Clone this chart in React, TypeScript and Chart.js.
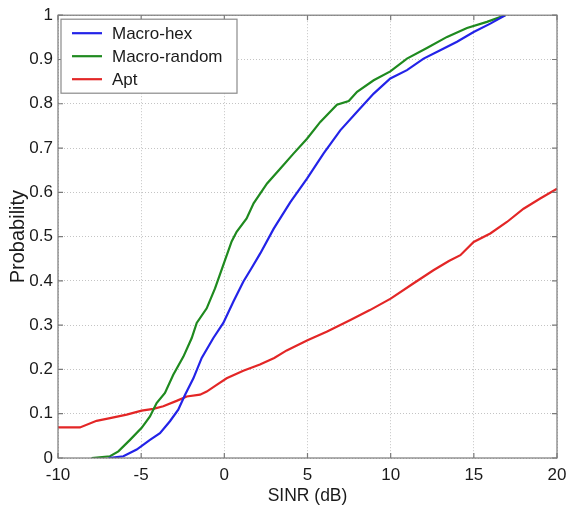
import React, { useEffect, useRef } from "react";
import { Chart, registerables } from "chart.js";

Chart.register(...registerables);

const seriesLabels = ["Macro-hex", "Macro-random", "Apt"];
const seriesColors = ["#2323e8", "#1f8a1f", "#e32626"];

const hexX = [-6.97, -6.07, -5.27, -4.47, -3.87, -3.27, -2.77, -2.36, -1.86, -1.36, -0.66, -0.06, 0.54, 1.14, 1.64, 2.16, 2.97, 3.97, 4.97, 5.97, 6.97, 7.98, 8.98, 9.98, 10.98, 11.98, 12.98, 13.99, 14.99, 15.99, 16.89];
const hexY = [0, 0.004, 0.019, 0.041, 0.056, 0.083, 0.109, 0.143, 0.18, 0.226, 0.271, 0.305, 0.353, 0.398, 0.429, 0.462, 0.518, 0.578, 0.631, 0.688, 0.74, 0.782, 0.823, 0.857, 0.876, 0.902, 0.921, 0.94, 0.962, 0.981, 1.0];

const randX = [-7.98, -6.87, -6.37, -5.67, -4.97, -4.47, -4.07, -3.57, -3.07, -2.46, -1.96, -1.66, -1.06, -0.56, -0.06, 0.44, 0.74, 1.34, 1.76, 2.57, 3.37, 4.17, 4.97, 5.77, 6.77, 7.48, 7.98, 8.98, 9.98, 10.98, 12.18, 13.39, 14.59, 15.79, 16.89];
const randY = [0, 0.004, 0.015, 0.041, 0.068, 0.094, 0.124, 0.147, 0.188, 0.229, 0.271, 0.305, 0.338, 0.383, 0.436, 0.489, 0.511, 0.541, 0.575, 0.62, 0.654, 0.688, 0.721, 0.759, 0.798, 0.806, 0.827, 0.853, 0.873, 0.902, 0.926, 0.951, 0.971, 0.985, 1.0];

const aptX = [-10, -8.68, -7.68, -6.87, -5.87, -4.97, -4.27, -3.67, -2.87, -2.26, -1.46, -1.06, -0.46, 0.14, 1.14, 2.14, 3.0, 3.75, 5.0, 6.15, 7.55, 8.75, 10.0, 11.36, 12.57, 13.5, 14.19, 14.99, 15.99, 16.99, 17.99, 18.99, 20];
const aptY = [0.069, 0.069, 0.084, 0.09, 0.098, 0.107, 0.111, 0.117, 0.129, 0.139, 0.143, 0.15, 0.165, 0.18, 0.197, 0.211, 0.226, 0.243, 0.266, 0.285, 0.311, 0.334, 0.36, 0.394, 0.424, 0.445, 0.458, 0.488, 0.507, 0.533, 0.563, 0.586, 0.608];

const xTicks = [-10, -5, 0, 5, 10, 15, 20];
const yTicks = [0, 0.1, 0.2, 0.3, 0.4, 0.5, 0.6, 0.7, 0.8, 0.9, 1];

const FONT = "'Liberation Sans', Arial, Helvetica, sans-serif";

const zip = (xs: number[], ys: number[]) => xs.map((x, i) => ({ x, y: ys[i] }));

const frameAndLegend = {
  id: "frameAndLegend",
  afterDraw(chart: any) {
    const { ctx, chartArea } = chart;
    const { left, right, top, bottom } = chartArea;
    const xs = chart.scales.x;
    const ys = chart.scales.y;
    ctx.save();
    ctx.strokeStyle = "#7a7a7a";
    ctx.lineWidth = 1.2;
    ctx.setLineDash([]);
    ctx.strokeRect(left, top, right - left, bottom - top);
    const tl = 5;
    ctx.beginPath();
    xTicks.forEach((v) => {
      const px = xs.getPixelForValue(v);
      ctx.moveTo(px, bottom);
      ctx.lineTo(px, bottom - tl);
      ctx.moveTo(px, top);
      ctx.lineTo(px, top + tl);
    });
    yTicks.forEach((v) => {
      const py = ys.getPixelForValue(v);
      ctx.moveTo(left, py);
      ctx.lineTo(left + tl, py);
      ctx.moveTo(right, py);
      ctx.lineTo(right - tl, py);
    });
    ctx.stroke();

    const bx = left + 3;
    const by = top + 4;
    const bw = 176;
    const bh = 74;
    ctx.fillStyle = "#ffffff";
    ctx.fillRect(bx, by, bw, bh);
    ctx.strokeStyle = "#8a8a8a";
    ctx.lineWidth = 1.2;
    ctx.strokeRect(bx, by, bw, bh);
    ctx.font = `17px ${FONT}`;
    ctx.textBaseline = "middle";
    ctx.textAlign = "left";
    seriesLabels.forEach((lab, i) => {
      const cy = by + 14 + i * 23;
      ctx.strokeStyle = seriesColors[i];
      ctx.lineWidth = 2.2;
      ctx.beginPath();
      ctx.moveTo(bx + 11, cy);
      ctx.lineTo(bx + 41, cy);
      ctx.stroke();
      ctx.fillStyle = "#1a1a1a";
      ctx.fillText(lab, bx + 51, cy + 1);
    });
    ctx.restore();
  },
};

export default function App() {
  const ref = useRef<HTMLCanvasElement | null>(null);

  useEffect(() => {
    document.body.style.margin = "0";
    const canvas = ref.current;
    if (!canvas) return;
    const datasets = [
      zip(hexX, hexY),
      zip(randX, randY),
      zip(aptX, aptY),
    ].map((data, i) => ({
      label: seriesLabels[i],
      data,
      borderColor: seriesColors[i],
      backgroundColor: seriesColors[i],
      borderWidth: 2.2,
      pointRadius: 0,
      tension: 0,
      fill: false,
    }));

    const chart = new Chart(canvas, {
      type: "line",
      data: { datasets },
      plugins: [frameAndLegend],
      options: {
        animation: false,
        responsive: false,
        maintainAspectRatio: false,
        layout: { padding: { top: 15, right: 10, left: 0, bottom: 0 } },
        plugins: { legend: { display: false }, tooltip: { enabled: false } },
        scales: {
          x: {
            type: "linear",
            min: -10,
            max: 20,
            afterBuildTicks: (s: any) => {
              s.ticks = xTicks.map((v) => ({ value: v }));
            },
            afterFit: (s: any) => {
              s.height = 49;
              s.paddingLeft = 0;
              s.paddingRight = 0;
            },
            ticks: {
              font: { family: FONT, size: 17 },
              color: "#1a1a1a",
              padding: 7,
              maxRotation: 0,
              autoSkip: false,
            },
            grid: { color: "#c4c4c4", lineWidth: 1, drawTicks: false },
            border: { display: false, dash: [1, 2] },
            title: {
              display: true,
              text: "SINR (dB)",
              font: { family: FONT, size: 17.5 },
              color: "#1a1a1a",
              padding: { top: 0, bottom: 0 },
            },
          },
          y: {
            type: "linear",
            min: 0,
            max: 1,
            afterBuildTicks: (s: any) => {
              s.ticks = yTicks.map((v) => ({ value: v }));
            },
            afterFit: (s: any) => {
              s.width = 58;
            },
            ticks: {
              font: { family: FONT, size: 17 },
              color: "#1a1a1a",
              padding: 5,
              autoSkip: false,
              callback: (v: any) => String(Math.round(Number(v) * 10) / 10),
            },
            grid: { color: "#c4c4c4", lineWidth: 1, drawTicks: false },
            border: { display: false, dash: [1, 2] },
            title: {
              display: true,
              text: "Probability",
              font: { family: FONT, size: 20 },
              color: "#1a1a1a",
              padding: { top: 6, bottom: 0 },
            },
          },
        },
      },
    } as any);
    return () => chart.destroy();
  }, []);

  return (
    <div style={{ position: "relative", width: 567, height: 507 }}>
      <canvas ref={ref} width={567} height={507} style={{ display: "block" }} />
    </div>
  );
}
